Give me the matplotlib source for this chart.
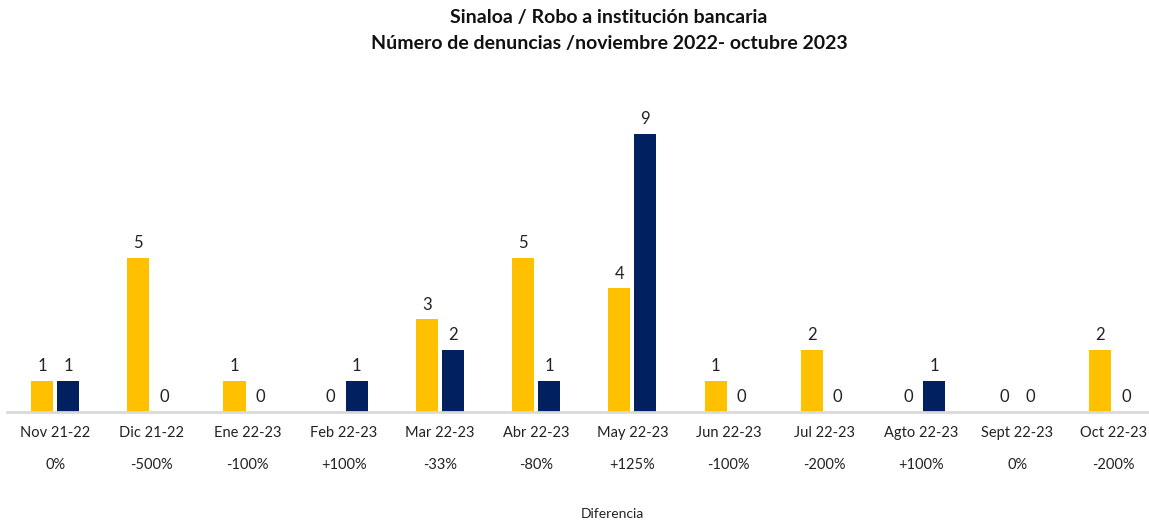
import numpy as np
import matplotlib.pyplot as plt

plt.rcParams['font.family'] = ['Lato', 'DejaVu Sans']

# data
meses = ['Nov 21-22', 'Dic 21-22', 'Ene 22-23', 'Feb 22-23', 'Mar 22-23', 'Abr 22-23',
         'May 22-23', 'Jun 22-23', 'Jul 22-23', 'Agto 22-23', 'Sept 22-23', 'Oct 22-23']
anterior = [1, 5, 1, 0, 3, 5, 4, 1, 2, 0, 0, 2]
actual = [1, 0, 0, 1, 2, 1, 9, 0, 0, 1, 0, 0]
diferencia = ['0%', '-500%', '-100%', '+100%', '-33%', '-80%', '+125%',
              '-100%', '-200%', '+100%', '0%', '-200%']

amarillo = '#FFC000'
azul = '#002060'

fig = plt.figure(figsize=(11.49, 5.21), dpi=100)
ax = fig.add_axes([7 / 1149, 109 / 521, 1142 / 1149, 309 / 521])

x = np.arange(len(meses))
w = 0.23
off = 0.135
ax.bar(x - off, anterior, w, color=amarillo)
ax.bar(x + off, actual, w, color=azul)

for i in x:
    ax.text(i - off, anterior[i] + 0.22, str(anterior[i]), ha='center', va='bottom',
            fontsize=12, color='#222222')
    ax.text(i + off, actual[i] + 0.22, str(actual[i]), ha='center', va='bottom',
            fontsize=12, color='#222222')
    ax.text(i, -0.45, meses[i], ha='center', va='top', fontsize=10.5, color='#222222')
    ax.text(i, -1.5, diferencia[i], ha='center', va='top', fontsize=10.5, color='#222222')

ax.set_xlim(-0.5, 11.37)
ax.set_ylim(0, 10)
for s in ['top', 'right', 'left']:
    ax.spines[s].set_visible(False)
ax.spines['bottom'].set_color('#d9d9d9')
ax.spines['bottom'].set_linewidth(2)
ax.set_xticks([])
ax.set_yticks([])

fig.text(0.53, 1 - 18 / 521, 'Sinaloa / Robo a institución bancaria', ha='center', va='center',
         fontsize=14, fontweight='bold', color='#111111')
fig.text(0.53, 1 - 44 / 521, 'Número de denuncias /noviembre 2022- octubre 2023', ha='center',
         va='center', fontsize=14, fontweight='bold', color='#111111')
fig.text(612 / 1149, 1 - 514 / 521, 'Diferencia', ha='center', va='center', fontsize=10,
         color='#222222')

fig.savefig('out.png', dpi=100)
